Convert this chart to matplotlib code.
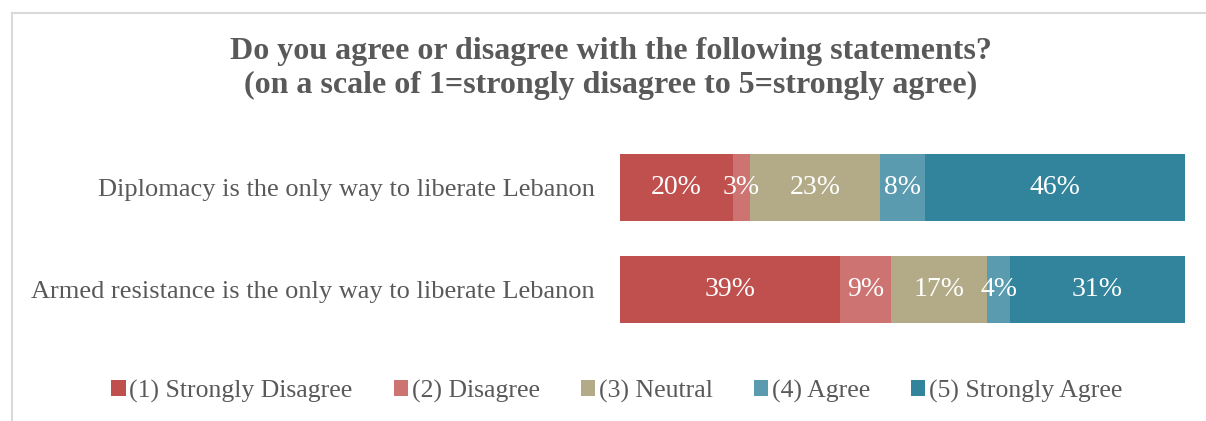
import matplotlib
matplotlib.use("Agg")
import matplotlib.pyplot as plt
from matplotlib.patches import Patch
from matplotlib.lines import Line2D

plt.rcParams['font.family'] = ['Liberation Serif', 'DejaVu Serif']

statements = ["Armed resistance is the only way to liberate Lebanon",
              "Diplomacy is the only way to liberate Lebanon"]
categories = ["(1) Strongly Disagree", "(2) Disagree", "(3) Neutral",
              "(4) Agree", "(5) Strongly Agree"]
# percentages per category, ordered as in `statements`
strongly_disagree = [39, 20]
disagree = [9, 3]
neutral = [17, 23]
agree = [4, 8]
strongly_agree = [31, 46]
series = [strongly_disagree, disagree, neutral, agree, strongly_agree]
colors = ["#C0504D", "#CD7371", "#B3AB87", "#5A9BAF", "#31849B"]

W, H = 1206, 421
fig = plt.figure(figsize=(W / 100, H / 100), dpi=100)

# light frame around the chart area
fig.add_artist(Line2D([12 / W, 12 / W], [0, 1 - 13 / H], transform=fig.transFigure,
                      color="#D9D9D9", lw=1.5))
fig.add_artist(Line2D([12 / W, 1], [1 - 13 / H, 1 - 13 / H], transform=fig.transFigure,
                      color="#D9D9D9", lw=1.5))

bar_h = 67 / 102
ax = fig.add_axes([620 / W, (H - 323) / H, 565 / W, 169 / H])
ypos = list(range(len(statements)))
left = [0] * len(statements)
for vals, col in zip(series, colors):
    ax.barh(ypos, vals, left=left, height=bar_h, color=col, edgecolor="none")
    for y, v, l in zip(ypos, vals, left):
        ax.text(l + v / 2, y, f"{v}%", ha="center", va="center",
                color="white", fontsize=20)
    left = [a + b for a, b in zip(left, vals)]

ax.set_xlim(0, 100)
ax.set_ylim(-bar_h / 2, 1 + bar_h / 2)
ax.set_yticks(ypos)
ax.set_yticklabels(statements, fontsize=19, color="#595959")
ax.tick_params(axis="y", length=0, pad=18)
ax.set_xticks([])
for s in ax.spines.values():
    s.set_visible(False)

fig.text(611 / W, 1 - 51 / H, "Do you agree or disagree with the following statements?",
         ha="center", va="center", fontsize=23, fontweight="bold", color="#595959")
fig.text(611 / W, 1 - 85 / H, "(on a scale of 1=strongly disagree to 5=strongly agree)",
         ha="center", va="center", fontsize=23, fontweight="bold", color="#595959")

handles = [Patch(facecolor=c, edgecolor="none") for c in colors]
fig.legend(handles, categories, loc="center", bbox_to_anchor=(617 / W, 1 - 391 / H),
           ncol=5, frameon=False, fontsize=18.5, labelcolor="#595959",
           handlelength=0.55, handleheight=0.55, handletextpad=0.15, columnspacing=1.6)

fig.savefig("out.png", dpi=100)
